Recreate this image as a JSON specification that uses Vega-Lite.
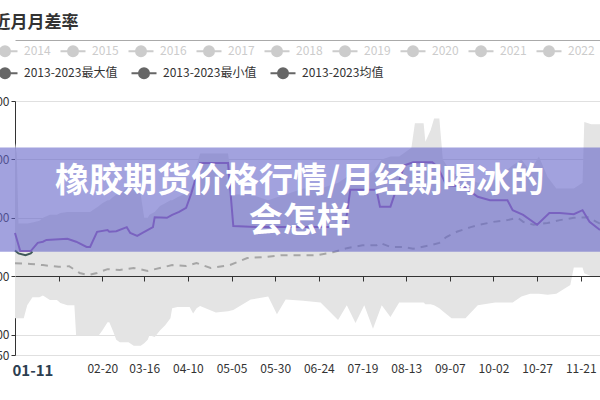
{
  "$schema": "https://vega.github.io/schema/vega-lite/v6.json",
  "width": 585,
  "height": 254,
  "autosize": {"type": "none"},
  "padding": {"left": 15, "top": 101, "right": 0, "bottom": 45},
  "background": "white",
  "config": {
    "font": "Noto Sans CJK SC",
    "view": {"stroke": null}
  },
  "title": {
    "text": "近月月差率",
    "anchor": "start",
    "frame": "group",
    "fontSize": 17,
    "fontWeight": "bold",
    "color": "#333333",
    "dx": -21.5,
    "offset": 6
  },
  "datasets": {
    "band": [
      {"d": "2023-01-01", "lo": -7.2, "hi": 22.8},
      {"d": "2023-01-02", "lo": -7.2, "hi": 21},
      {"d": "2023-01-03", "lo": -7.2, "hi": 9},
      {"d": "2023-01-06", "lo": -7.2, "hi": 9},
      {"d": "2023-01-08", "lo": -5, "hi": 9},
      {"d": "2023-01-11", "lo": -3.6, "hi": 9.2},
      {"d": "2023-01-15", "lo": -3.6, "hi": 9.5},
      {"d": "2023-01-17", "lo": -3.3, "hi": 10},
      {"d": "2023-01-21", "lo": -4.1, "hi": 10.5},
      {"d": "2023-01-25", "lo": -4.1, "hi": 10.5},
      {"d": "2023-01-27", "lo": -4.6, "hi": 10.8},
      {"d": "2023-01-31", "lo": -5, "hi": 11},
      {"d": "2023-02-04", "lo": -5, "hi": 11},
      {"d": "2023-02-05", "lo": -10.1, "hi": 11},
      {"d": "2023-02-13", "lo": -10.1, "hi": 11},
      {"d": "2023-02-18", "lo": -10.1, "hi": 12},
      {"d": "2023-02-20", "lo": -9.3, "hi": 12.5},
      {"d": "2023-02-23", "lo": -7.9, "hi": 13},
      {"d": "2023-02-24", "lo": -7.9, "hi": 13},
      {"d": "2023-02-26", "lo": -9.3, "hi": 13.5},
      {"d": "2023-02-28", "lo": -10.9, "hi": 14},
      {"d": "2023-03-02", "lo": -11.3, "hi": 14},
      {"d": "2023-03-07", "lo": -11.3, "hi": 15.5},
      {"d": "2023-03-10", "lo": -11.9, "hi": 15},
      {"d": "2023-03-14", "lo": -11.9, "hi": 14},
      {"d": "2023-03-16", "lo": -11.5, "hi": 10},
      {"d": "2023-03-18", "lo": -10.9, "hi": 10},
      {"d": "2023-03-19", "lo": -10.1, "hi": 10.5},
      {"d": "2023-03-22", "lo": -10.4, "hi": 11},
      {"d": "2023-03-25", "lo": -9.3, "hi": 12},
      {"d": "2023-03-28", "lo": -8.4, "hi": 12.5},
      {"d": "2023-03-31", "lo": -7.2, "hi": 13},
      {"d": "2023-04-01", "lo": -5.5, "hi": 13},
      {"d": "2023-04-04", "lo": -5.3, "hi": 13.5},
      {"d": "2023-04-11", "lo": -5.3, "hi": 14.5},
      {"d": "2023-04-13", "lo": -6.4, "hi": 16},
      {"d": "2023-04-15", "lo": -5.5, "hi": 19},
      {"d": "2023-04-17", "lo": -5.1, "hi": 21},
      {"d": "2023-04-26", "lo": -6.2, "hi": 21},
      {"d": "2023-05-03", "lo": -6.0, "hi": 21},
      {"d": "2023-05-06", "lo": -5.8, "hi": 14},
      {"d": "2023-05-16", "lo": -4.0, "hi": 14},
      {"d": "2023-05-26", "lo": -3.5, "hi": 13},
      {"d": "2023-05-31", "lo": -6.5, "hi": 13.5},
      {"d": "2023-06-05", "lo": -4.0, "hi": 14},
      {"d": "2023-06-15", "lo": -4.2, "hi": 15},
      {"d": "2023-06-25", "lo": -4.5, "hi": 15},
      {"d": "2023-07-05", "lo": -7.5, "hi": 16},
      {"d": "2023-07-10", "lo": -5, "hi": 17},
      {"d": "2023-07-15", "lo": -8, "hi": 17},
      {"d": "2023-07-20", "lo": -5, "hi": 17},
      {"d": "2023-07-25", "lo": -9, "hi": 18},
      {"d": "2023-07-30", "lo": -5, "hi": 20},
      {"d": "2023-08-04", "lo": -7, "hi": 20.5},
      {"d": "2023-08-09", "lo": -4.5, "hi": 20.5},
      {"d": "2023-08-16", "lo": -4.5, "hi": 22},
      {"d": "2023-08-18", "lo": -4.5, "hi": 26.2},
      {"d": "2023-08-23", "lo": -4.5, "hi": 26.2},
      {"d": "2023-08-24", "lo": -4.8, "hi": 23},
      {"d": "2023-08-27", "lo": -4.8, "hi": 25},
      {"d": "2023-08-29", "lo": -5, "hi": 27},
      {"d": "2023-09-01", "lo": -5.5, "hi": 27},
      {"d": "2023-09-03", "lo": -6, "hi": 20},
      {"d": "2023-09-08", "lo": -7.2, "hi": 17.7},
      {"d": "2023-09-16", "lo": -7.2, "hi": 17},
      {"d": "2023-09-23", "lo": -5, "hi": 16},
      {"d": "2023-10-03", "lo": -4.5, "hi": 16.5},
      {"d": "2023-10-13", "lo": -4.5, "hi": 19},
      {"d": "2023-10-18", "lo": -3.5, "hi": 20},
      {"d": "2023-10-23", "lo": -3.0, "hi": 18},
      {"d": "2023-10-28", "lo": -3.0, "hi": 20.5},
      {"d": "2023-11-02", "lo": -3.2, "hi": 17},
      {"d": "2023-11-07", "lo": -3.0, "hi": 15},
      {"d": "2023-11-15", "lo": -1.5, "hi": 15},
      {"d": "2023-11-17", "lo": 1.5, "hi": 15},
      {"d": "2023-11-22", "lo": 1.5, "hi": 16},
      {"d": "2023-11-23", "lo": 0.5, "hi": 26.4},
      {"d": "2023-11-27", "lo": 0, "hi": 26},
      {"d": "2023-12-02", "lo": 0, "hi": 26}
    ],
    "lines": [
      {"s": "purple", "d": "2023-01-01", "v": 7.4},
      {"s": "purple", "d": "2023-01-04", "v": 4.3},
      {"s": "purple", "d": "2023-01-10", "v": 4.3},
      {"s": "purple", "d": "2023-01-14", "v": 5.7},
      {"s": "purple", "d": "2023-01-17", "v": 5.9},
      {"s": "purple", "d": "2023-01-19", "v": 6.2},
      {"s": "purple", "d": "2023-01-31", "v": 6.4},
      {"s": "purple", "d": "2023-02-05", "v": 5.9},
      {"s": "purple", "d": "2023-02-11", "v": 5.0},
      {"s": "purple", "d": "2023-02-13", "v": 5.0},
      {"s": "purple", "d": "2023-02-17", "v": 7.6},
      {"s": "purple", "d": "2023-02-23", "v": 7.9},
      {"s": "purple", "d": "2023-02-24", "v": 7.6},
      {"s": "purple", "d": "2023-02-28", "v": 7.7},
      {"s": "purple", "d": "2023-03-06", "v": 8.4},
      {"s": "purple", "d": "2023-03-08", "v": 7.4},
      {"s": "purple", "d": "2023-03-12", "v": 6.9},
      {"s": "purple", "d": "2023-03-15", "v": 7.4},
      {"s": "purple", "d": "2023-03-21", "v": 8.4},
      {"s": "purple", "d": "2023-03-22", "v": 10.1},
      {"s": "purple", "d": "2023-03-29", "v": 10.0},
      {"s": "purple", "d": "2023-04-01", "v": 10.5},
      {"s": "purple", "d": "2023-04-05", "v": 11.0},
      {"s": "purple", "d": "2023-04-09", "v": 11.7},
      {"s": "purple", "d": "2023-04-12", "v": 14.2},
      {"s": "purple", "d": "2023-04-15", "v": 17.3},
      {"s": "purple", "d": "2023-04-17", "v": 19.4},
      {"s": "purple", "d": "2023-05-03", "v": 19.4},
      {"s": "purple", "d": "2023-05-06", "v": 8.6},
      {"s": "purple", "d": "2023-05-20", "v": 8.4},
      {"s": "purple", "d": "2023-07-09", "v": 8.4},
      {"s": "purple", "d": "2023-07-12", "v": 14.8},
      {"s": "purple", "d": "2023-07-27", "v": 14.8},
      {"s": "purple", "d": "2023-07-29", "v": 11.9},
      {"s": "purple", "d": "2023-08-04", "v": 11.9},
      {"s": "purple", "d": "2023-08-12", "v": 19.0},
      {"s": "purple", "d": "2023-08-17", "v": 19.5},
      {"s": "purple", "d": "2023-08-28", "v": 19.5},
      {"s": "purple", "d": "2023-08-31", "v": 18.7},
      {"s": "purple", "d": "2023-09-05", "v": 15.6},
      {"s": "purple", "d": "2023-09-15", "v": 15.3},
      {"s": "purple", "d": "2023-09-23", "v": 13.6},
      {"s": "purple", "d": "2023-09-30", "v": 13.0},
      {"s": "purple", "d": "2023-10-10", "v": 13.0},
      {"s": "purple", "d": "2023-10-13", "v": 11.3},
      {"s": "purple", "d": "2023-10-19", "v": 10.5},
      {"s": "purple", "d": "2023-10-27", "v": 8.8},
      {"s": "purple", "d": "2023-11-03", "v": 10.8},
      {"s": "purple", "d": "2023-11-09", "v": 10.8},
      {"s": "purple", "d": "2023-11-17", "v": 10.6},
      {"s": "purple", "d": "2023-11-22", "v": 11.3},
      {"s": "purple", "d": "2023-11-26", "v": 9.3},
      {"s": "purple", "d": "2023-12-02", "v": 7.9},
      {"s": "mean", "d": "2023-01-01", "v": 2.2},
      {"s": "mean", "d": "2023-01-10", "v": 2.1},
      {"s": "mean", "d": "2023-01-17", "v": 1.9},
      {"s": "mean", "d": "2023-01-26", "v": 1.6},
      {"s": "mean", "d": "2023-02-01", "v": 1.7},
      {"s": "mean", "d": "2023-02-07", "v": 0.55},
      {"s": "mean", "d": "2023-02-12", "v": 0.2},
      {"s": "mean", "d": "2023-02-17", "v": 0.55},
      {"s": "mean", "d": "2023-02-23", "v": 1.2},
      {"s": "mean", "d": "2023-03-02", "v": 1.06},
      {"s": "mean", "d": "2023-03-10", "v": 1.4},
      {"s": "mean", "d": "2023-03-18", "v": 0.9},
      {"s": "mean", "d": "2023-03-25", "v": 1.4},
      {"s": "mean", "d": "2023-04-01", "v": 1.9},
      {"s": "mean", "d": "2023-04-09", "v": 1.75},
      {"s": "mean", "d": "2023-04-15", "v": 2.26},
      {"s": "mean", "d": "2023-04-23", "v": 1.4},
      {"s": "mean", "d": "2023-05-04", "v": 1.9},
      {"s": "mean", "d": "2023-05-14", "v": 3.1},
      {"s": "mean", "d": "2023-05-25", "v": 3.3},
      {"s": "mean", "d": "2023-06-03", "v": 3.6},
      {"s": "mean", "d": "2023-06-23", "v": 3.6},
      {"s": "mean", "d": "2023-07-02", "v": 4.1},
      {"s": "mean", "d": "2023-07-10", "v": 4.8},
      {"s": "mean", "d": "2023-07-19", "v": 5.3},
      {"s": "mean", "d": "2023-07-27", "v": 5.3},
      {"s": "mean", "d": "2023-07-29", "v": 5.7},
      {"s": "mean", "d": "2023-08-04", "v": 5.0},
      {"s": "mean", "d": "2023-08-11", "v": 5.0},
      {"s": "mean", "d": "2023-08-17", "v": 4.7},
      {"s": "mean", "d": "2023-08-27", "v": 5.3},
      {"s": "mean", "d": "2023-09-01", "v": 5.7},
      {"s": "mean", "d": "2023-09-05", "v": 6.7},
      {"s": "mean", "d": "2023-09-11", "v": 7.6},
      {"s": "mean", "d": "2023-09-19", "v": 8.4},
      {"s": "mean", "d": "2023-09-24", "v": 8.8},
      {"s": "mean", "d": "2023-10-02", "v": 9.3},
      {"s": "mean", "d": "2023-10-10", "v": 9.6},
      {"s": "mean", "d": "2023-10-16", "v": 10.0},
      {"s": "mean", "d": "2023-10-19", "v": 9.3},
      {"s": "mean", "d": "2023-10-25", "v": 8.8},
      {"s": "mean", "d": "2023-11-02", "v": 9.1},
      {"s": "mean", "d": "2023-11-09", "v": 9.6},
      {"s": "mean", "d": "2023-11-17", "v": 10.0},
      {"s": "mean", "d": "2023-11-25", "v": 10.1},
      {"s": "mean", "d": "2023-11-30", "v": 9.3},
      {"s": "mean", "d": "2023-12-02", "v": 9.0},
      {"s": "current", "d": "2023-01-01", "v": 4.4},
      {"s": "current", "d": "2023-01-03", "v": 3.9},
      {"s": "current", "d": "2023-01-07", "v": 3.6},
      {"s": "current", "d": "2023-01-10", "v": 3.9},
      {"s": "current", "d": "2023-01-11", "v": 4.2}
    ],
    "banner": [
      {"x0": "2022-12-20", "x1": "2023-12-10", "y0": 4.18, "y1": 22.04, "d": "2023-06-13", "v": 16.1, "t": ["橡胶期货价格行情/月经期喝冰的", "会怎样"]}
    ]
  },
  "layer": [
    {
      "layer": [
        {
          "data": {"name": "band"},
          "mark": {"type": "area", "color": "#e4e4e4"},
          "encoding": {
            "x": {
              "field": "d", "type": "temporal", "title": null,
              "scale": {"type": "utc", "domain": [{"year": 2023, "month": 1, "date": 1, "utc": true}, {"year": 2023, "month": 12, "date": 2, "utc": true}]},
              "axis": {
                "orient": "bottom",
                "offset": -79,
                "zindex": 1,
                "grid": false,
                "format": "%m-%d",
                "values": [
                  {"year": 2023, "month": 1, "date": 11, "utc": true},
                  {"year": 2023, "month": 1, "date": 26, "utc": true},
                  {"year": 2023, "month": 2, "date": 20, "utc": true},
                  {"year": 2023, "month": 3, "date": 16, "utc": true},
                  {"year": 2023, "month": 4, "date": 10, "utc": true},
                  {"year": 2023, "month": 5, "date": 5, "utc": true},
                  {"year": 2023, "month": 5, "date": 30, "utc": true},
                  {"year": 2023, "month": 6, "date": 24, "utc": true},
                  {"year": 2023, "month": 7, "date": 19, "utc": true},
                  {"year": 2023, "month": 8, "date": 13, "utc": true},
                  {"year": 2023, "month": 9, "date": 7, "utc": true},
                  {"year": 2023, "month": 10, "date": 2, "utc": true},
                  {"year": 2023, "month": 10, "date": 27, "utc": true},
                  {"year": 2023, "month": 11, "date": 21, "utc": true}
                ],
                "domainColor": "#333333",
                "tickColor": "#333333",
                "tickSize": 5,
                "labelPadding": 82,
                "labelOverlap": false,
                "labelFlush": false,
                "labelFont": "Noto Sans CJK SC",
                "labelFontSize": {"condition": {"test": "utcdate(datum.value)==11 && utcmonth(datum.value)==0", "value": 15}, "value": 12},
                "labelFontWeight": {"condition": {"test": "utcdate(datum.value)==11 && utcmonth(datum.value)==0", "value": "bold"}, "value": "normal"},
                "labelColor": {"condition": {"test": "utcdate(datum.value)==11 && utcmonth(datum.value)==0", "value": "#2c3e50"}, "value": "#333333"},
                "labelOpacity": {"condition": {"test": "utcdate(datum.value)==26 && utcmonth(datum.value)==0", "value": 0}, "value": 1},
                "tickOpacity": {"condition": {"test": "utcdate(datum.value)==11 && utcmonth(datum.value)==0", "value": 0}, "value": 1}
              }
            },
            "y": {
              "field": "lo", "type": "quantitative", "title": null,
              "scale": {"domain": [-13.5, 30], "nice": false, "zero": false},
              "axis": {
                "values": [-13.5, -10, 0, 10, 20, 30],
                "format": ".2f",
                "domainColor": "#333333",
                "tickColor": "#333333",
                "tickSize": 4,
                "labelPadding": 2,
                "labelFont": "Noto Sans CJK SC",
                "labelFontSize": 12,
                "labelColor": "#333333",
                "gridColor": "#e0e0e0"
              }
            },
            "y2": {"field": "hi"}
          }
        },
        {
          "data": {"name": "lines"},
          "transform": [{"filter": "datum.s == 'mean'"}],
          "mark": {"type": "line", "color": "#a6a6a6", "strokeWidth": 2, "strokeDash": [7, 6]},
          "encoding": {
            "x": {"field": "d", "type": "temporal", "title": null, "scale": {"type": "utc", "domain": [{"year": 2023, "month": 1, "date": 1, "utc": true}, {"year": 2023, "month": 12, "date": 2, "utc": true}]}},
            "y": {"field": "v", "type": "quantitative", "title": null, "scale": {"domain": [-13.5, 30], "nice": false, "zero": false}}
          }
        },
        {
          "data": {"name": "lines"},
          "transform": [{"filter": "datum.s == 'purple'"}],
          "mark": {"type": "line", "color": "#9a60b4", "strokeWidth": 2},
          "encoding": {
            "x": {"field": "d", "type": "temporal", "title": null, "scale": {"type": "utc", "domain": [{"year": 2023, "month": 1, "date": 1, "utc": true}, {"year": 2023, "month": 12, "date": 2, "utc": true}]}},
            "y": {"field": "v", "type": "quantitative", "title": null, "scale": {"domain": [-13.5, 30], "nice": false, "zero": false}}
          }
        },
        {
          "data": {"name": "lines"},
          "transform": [{"filter": "datum.s == 'current'"}],
          "mark": {"type": "line", "color": "#3f5858", "strokeWidth": 2},
          "encoding": {
            "x": {"field": "d", "type": "temporal", "title": null, "scale": {"type": "utc", "domain": [{"year": 2023, "month": 1, "date": 1, "utc": true}, {"year": 2023, "month": 12, "date": 2, "utc": true}]}},
            "y": {"field": "v", "type": "quantitative", "title": null, "scale": {"domain": [-13.5, 30], "nice": false, "zero": false}}
          }
        },
        {
          "data": {"values": []},
          "mark": {"type": "point", "filled": true},
          "encoding": {
            "fill": {
              "field": "stat", "type": "nominal",
              "scale": {"domain": ["2013-2023最大值", "2013-2023最小值", "2013-2023均值"], "range": ["#666666", "#666666", "#666666"]},
              "legend": {
                "orient": "none", "legendX": -23.5, "legendY": -41.5,
                "direction": "horizontal", "title": null, "padding": 0,
                "symbolType": "M-1,0L-0.4,0M0.4,0L1,0M0.4,0A0.4,0.4,0,1,1,-0.4,0A0.4,0.4,0,1,1,0.4,0Z",
                "symbolSize": 625, "symbolStrokeWidth": 2, "symbolOffset": 0, "symbolOpacity": 1,
                "labelFont": "Noto Sans CJK SC", "labelFontSize": 12, "labelColor": "#333333",
                "labelOffset": 5.5, "columnPadding": 10
              }
            },
            "stroke": {
              "field": "stat", "type": "nominal",
              "scale": {"domain": ["2013-2023最大值", "2013-2023最小值", "2013-2023均值"], "range": ["#666666", "#666666", "#666666"]},
              "legend": {
                "orient": "none", "legendX": -23.5, "legendY": -41.5,
                "direction": "horizontal", "title": null, "padding": 0,
                "symbolType": "M-1,0L-0.4,0M0.4,0L1,0M0.4,0A0.4,0.4,0,1,1,-0.4,0A0.4,0.4,0,1,1,0.4,0Z",
                "symbolSize": 625, "symbolStrokeWidth": 2, "symbolOffset": 0, "symbolOpacity": 1,
                "labelFont": "Noto Sans CJK SC", "labelFontSize": 12, "labelColor": "#333333",
                "labelOffset": 5.5, "columnPadding": 10
              }
            }
          }
        },
        {
          "data": {"name": "banner"},
          "mark": {"type": "rect", "color": "#6464c8", "opacity": 0.6, "clip": false},
          "encoding": {
            "x": {"field": "x0", "type": "temporal", "title": null, "scale": {"type": "utc", "domain": [{"year": 2023, "month": 1, "date": 1, "utc": true}, {"year": 2023, "month": 12, "date": 2, "utc": true}]}},
            "x2": {"field": "x1"},
            "y": {"field": "y0", "type": "quantitative", "title": null, "scale": {"domain": [-13.5, 30], "nice": false, "zero": false}},
            "y2": {"field": "y1"}
          }
        },
        {
          "data": {"name": "banner"},
          "mark": {"type": "text", "color": "white", "font": "Noto Sans CJK SC", "fontSize": 34, "fontWeight": "bold", "lineHeight": 40, "align": "center", "baseline": "middle"},
          "encoding": {
            "x": {"field": "d", "type": "temporal", "title": null, "scale": {"type": "utc", "domain": [{"year": 2023, "month": 1, "date": 1, "utc": true}, {"year": 2023, "month": 12, "date": 2, "utc": true}]}},
            "y": {"field": "v", "type": "quantitative", "title": null, "scale": {"domain": [-13.5, 30], "nice": false, "zero": false}},
            "text": {"field": "t"}
          }
        }
      ]
    },
    {
      "data": {"values": []},
      "mark": {"type": "point", "filled": true},
      "encoding": {
        "x": {
          "field": "d", "type": "temporal", "title": null,
          "scale": {"type": "utc", "domain": [{"year": 2023, "month": 1, "date": 1, "utc": true}, {"year": 2023, "month": 12, "date": 2, "utc": true}]},
          "axis": {"orient": "top", "offset": 61, "domain": true, "domainColor": "#aaaaaa", "ticks": false, "labels": false, "grid": false}
        },
        "fill": {
          "field": "yr", "type": "nominal",
          "scale": {"domain": ["2014", "2015", "2016", "2017", "2018", "2019", "2020", "2021", "2022"], "range": ["#cccccc", "#cccccc", "#cccccc", "#cccccc", "#cccccc", "#cccccc", "#cccccc", "#cccccc", "#cccccc"]},
          "legend": {
            "orient": "none", "legendX": -23.5, "legendY": -63.5,
            "direction": "horizontal", "title": null, "padding": 0,
            "symbolType": "M-1,0L-0.4,0M0.4,0L1,0M0.4,0A0.4,0.4,0,1,1,-0.4,0A0.4,0.4,0,1,1,0.4,0Z",
            "symbolSize": 625, "symbolStrokeWidth": 2, "symbolOffset": 0, "symbolOpacity": 1,
            "labelFont": "Noto Sans CJK SC", "labelFontSize": 12, "labelColor": "#cccccc",
            "labelOffset": 5.5, "columnPadding": 5
          }
        },
        "stroke": {
          "field": "yr", "type": "nominal",
          "scale": {"domain": ["2014", "2015", "2016", "2017", "2018", "2019", "2020", "2021", "2022"], "range": ["#cccccc", "#cccccc", "#cccccc", "#cccccc", "#cccccc", "#cccccc", "#cccccc", "#cccccc", "#cccccc"]},
          "legend": {
            "orient": "none", "legendX": -23.5, "legendY": -63.5,
            "direction": "horizontal", "title": null, "padding": 0,
            "symbolType": "M-1,0L-0.4,0M0.4,0L1,0M0.4,0A0.4,0.4,0,1,1,-0.4,0A0.4,0.4,0,1,1,0.4,0Z",
            "symbolSize": 625, "symbolStrokeWidth": 2, "symbolOffset": 0, "symbolOpacity": 1,
            "labelFont": "Noto Sans CJK SC", "labelFontSize": 12, "labelColor": "#cccccc",
            "labelOffset": 5.5, "columnPadding": 5
          }
        }
      }
    }
  ],
  "resolve": {
    "scale": {"x": "independent", "fill": "independent", "stroke": "independent"},
    "axis": {"x": "independent"},
    "legend": {"fill": "independent", "stroke": "independent"}
  }
}
